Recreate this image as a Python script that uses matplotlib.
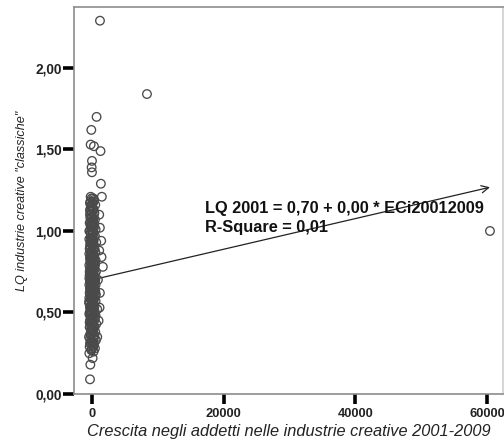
import matplotlib
matplotlib.use("Agg")
import matplotlib.pyplot as plt
import numpy as np

# ---- data ----
growth = [
    -300, -250, 100, -400, 250, -100, 450, -350, 50, 300, -200, 600, -50, 150, -450, 350, 0, -250, 500, 200,
    -150, 400, -350, 50, 650, -50, 250, -300, 450, 100, -200, 550, -400, 0, 300, -100, 800, 150, -300, 400,
    -50, 250, -450, 550, 50, -200, 350, -100, 150, 600, -350, 0, 300, -250, 450, 100, -150, 250, -400, 550,
    0, 350, -300, 150, -50, 500, 200, -200, 50, 400, -350, 250, -100, 600, 100, -250, 300, 0, -400, 450,
    150, -150, 550, -300, 50, 350, -50, 200, -200, 500, 0, -350, 300, 100, -100, 650, -250, 200, -400, 50,
    450, -150, 250, -300, 0, 550, 150, -200, 350, -50, -350, 100, 450, -250, 200, -100, 350, 0, -300, 150,
    -150, 500, 50, -250, 300, -50, 200, -200,
    1500, 1350, 0, -50, 0, 1300, 300, -200, -100, 700, 1400, 1450, 1650, 1200, 1150, 1100, 1200, 1100, 900, 1000, 800,
    -150, 200, -350, 400, 0, -250, 150, -50, 300, -400, 100, -200, 500, 0, -300, 250, -100, 400, 50, -250,
    150, -400, 300, -50, 100, -150, 450, 0, -300, 200, -100, 350, 0, -250, 100, -400, 250, -150, 50, -50,
    300, -200, 100, 0, -300, 250, -100, 0, -200, 150, -300, 250, 0,
    -100, 200, -300, 50, 350, -200, 0, 250, -350, 100, -50, 400, -250, 150, -150, 300, 0, -400, 200, -100,
    450, -300, 50, 250, -200, 0, 350, -150, 100, -350, 200, -50, 300, -250, 150, 0, -100, 400, -300, 50,
    250, -200, 100, -400, 300, 0, -150, 200, -50, 350, -250, 100, 0, -300, 250, -100, 150, -200, 50, 300,
    1215, 8350, 60450,
]
lq = [
    0.09, 0.18, 0.22, 0.25, 0.26, 0.27, 0.28, 0.29, 0.30, 0.31, 0.32, 0.33, 0.33, 0.34, 0.35, 0.36, 0.37, 0.37, 0.38, 0.39,
    0.40, 0.41, 0.41, 0.42, 0.43, 0.44, 0.44, 0.45, 0.46, 0.47, 0.47, 0.48, 0.49, 0.49, 0.50, 0.51, 0.52, 0.52, 0.53, 0.54,
    0.55, 0.55, 0.56, 0.57, 0.57, 0.58, 0.59, 0.60, 0.60, 0.61, 0.62, 0.62, 0.63, 0.64, 0.64, 0.65, 0.66, 0.66, 0.67, 0.67,
    0.68, 0.68, 0.69, 0.69, 0.70, 0.70, 0.71, 0.71, 0.72, 0.72, 0.73, 0.73, 0.74, 0.75, 0.75, 0.76, 0.77, 0.78, 0.79, 0.79,
    0.80, 0.81, 0.82, 0.83, 0.83, 0.84, 0.85, 0.86, 0.87, 0.87, 0.88, 0.89, 0.90, 0.91, 0.92, 0.93, 0.93, 0.94, 0.95, 0.96,
    0.97, 0.98, 0.99, 1.00, 1.01, 1.01, 1.02, 1.03, 1.04, 1.04, 1.05, 1.06, 1.07, 1.08, 1.09, 1.10, 1.11, 1.12, 1.13, 1.14,
    1.15, 1.16, 1.17, 1.18, 1.19, 1.20, 1.20, 1.21,
    1.21, 1.29, 1.36, 1.39, 1.43, 1.49, 1.52, 1.53, 1.62, 1.70, 0.94, 0.84, 0.78, 0.62, 0.53, 1.10, 1.02, 0.88, 0.70, 0.45, 0.35,
    0.46, 0.48, 0.50, 0.51, 0.53, 0.54, 0.56, 0.58, 0.58, 0.59, 0.61, 0.63, 0.63, 0.64, 0.65, 0.65, 0.67, 0.69, 0.69, 0.70,
    0.70, 0.71, 0.71, 0.72, 0.73, 0.74, 0.74, 0.76, 0.77, 0.78, 0.80, 0.81, 0.82, 0.84, 0.85, 0.86, 0.88, 0.90, 0.92, 0.95,
    0.96, 0.99, 1.00, 1.05, 1.10, 1.13, 1.16, 0.40, 0.43, 0.38, 0.34, 0.30, 0.28,
    0.27, 0.29, 0.31, 0.32, 0.35, 0.36, 0.39, 0.42, 0.44, 0.46, 0.47, 0.49, 0.50, 0.52, 0.53, 0.55, 0.56, 0.57, 0.59, 0.60,
    0.61, 0.62, 0.64, 0.66, 0.67, 0.68, 0.70, 0.72, 0.73, 0.75, 0.76, 0.78, 0.79, 0.81, 0.83, 0.85, 0.87, 0.89, 0.91, 0.93,
    0.94, 0.96, 0.98, 1.00, 1.02, 1.03, 1.05, 1.07, 1.08, 1.11, 1.12, 1.14, 1.15, 1.17, 1.18, 0.66, 0.58, 0.51, 0.71, 0.63,
    2.29, 1.84, 1.00,
]
fit_intercept = 0.70
fit_slope = 9.4e-6
equation_text = "LQ 2001 = 0,70 + 0,00 * ECi20012009"
rsq_text = "R-Square = 0,01"
xticks = [0, 20000, 40000, 60000]
xtick_labels = ["0", "20000", "40000", "60000"]
yticks = [0.0, 0.5, 1.0, 1.5, 2.0]
ytick_labels = ["0,00", "0,50", "1,00", "1,50", "2,00"]
xlabel = "Crescita negli addetti nelle industrie creative 2001-2009"
ylabel = "LQ industrie creative \"classiche\""

plt.rcParams['font.family'] = ['Liberation Sans', 'DejaVu Sans']

fig = plt.figure(figsize=(5.04, 4.46), dpi=100)
ax = fig.add_axes([74/504, 52/446, 429/504, 387/446])

ax.scatter(growth, lq, s=38, facecolors='none', edgecolors='#4a4a4a', linewidths=0.95, zorder=3)

x0, x1 = min(growth), max(growth)
ax.annotate("", xy=(x1, fit_intercept + fit_slope * x1), xytext=(x0, fit_intercept + fit_slope * x0),
            arrowprops=dict(arrowstyle='->', color='#222222', lw=0.9, shrinkA=0, shrinkB=0,
                            mutation_scale=13), zorder=2)

ax.text(17200, 1.14, equation_text, fontsize=11.8, fontweight='bold', va='center', ha='left', color='#111111', zorder=4)
ax.text(17200, 1.02, rsq_text, fontsize=11.8, fontweight='bold', va='center', ha='left', color='#111111', zorder=4)

ax.set_xlim(-2730, 62430)
ax.set_ylim(0, 2.374)
ax.set_xticks(xticks)
ax.set_xticklabels(xtick_labels, fontsize=9.3, fontweight='bold', color='#222222')
ax.set_yticks(yticks)
ax.set_yticklabels(ytick_labels, fontsize=9.8, fontweight='bold', color='#222222')
ax.tick_params(axis='y', direction='out', length=8, width=2.6, color='black', pad=1)
ax.tick_params(axis='x', direction='out', length=7, width=2.6, color='black', pad=3)

for side in ['left', 'top', 'bottom', 'right']:
    ax.spines[side].set_color('#8c8c8c')
    ax.spines[side].set_linewidth(1.2)
ax.spines['right'].set_color('#d0d0d0')

ax.set_xlabel(xlabel, fontsize=11.8, fontstyle='italic', color='#222222', labelpad=3)
ax.set_ylabel(ylabel, fontsize=9.1, fontstyle='italic', color='#222222', labelpad=5)

fig.savefig("out.png", dpi=100)
